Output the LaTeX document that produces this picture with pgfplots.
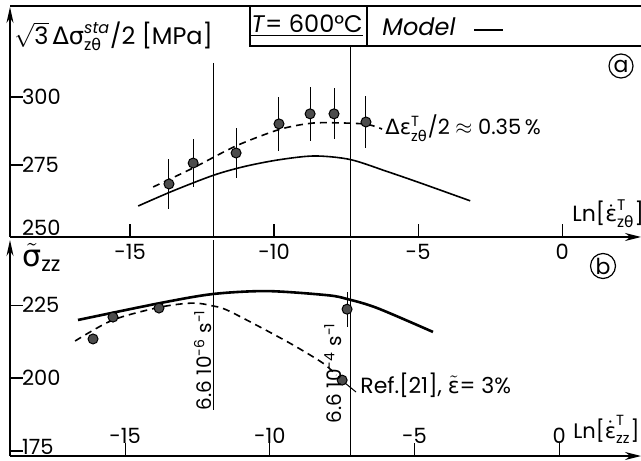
\documentclass[border=0pt]{standalone}
\usepackage{amsmath}
\usepackage{fontspec}
\setmainfont{Poppins}
\newfontfamily\grk{DejaVu Sans}
\usepackage{pgfplots}
\pgfplotsset{compat=1.18}
\usetikzlibrary{arrows.meta}

\pgfplotsset{
  panel/.style={
    scale only axis, width=315.5pt, anchor=south west,
    axis x line*=bottom, axis y line*=left,
    axis line style={line width=0.8pt},
    x axis line style={-{Stealth[length=8pt,width=4pt]}},
    y axis line style={-{Stealth[length=8pt,width=3.5pt]}},
    tick align=inside, major tick length=6.5pt,
    every tick/.style={black, line width=0.6pt},
    xtick={-15,-10,-5,0},
    /pgf/number format/assume math mode=true,
    ticklabel style={font=\fontsize{10.5}{12}\selectfont},
    yticklabel style={anchor=west, xshift=2.5pt},
    clip=false,
  },
  model/.style={black, line width=0.8pt, smooth, tension=0.5, no marks},
  fit/.style={black, line width=0.8pt, dash pattern=on 3.5pt off 2.5pt, smooth, tension=0.5, no marks},
  rate/.style={black, line width=0.5pt, no marks},
  pts/.style={only marks, mark=*, mark size=2.5pt,
    mark options={fill=black!70, draw=black, line width=0.5pt}},
}

\begin{document}
\begin{tikzpicture}[x=0.5pt, y=0.5pt]

% (a) shear stress amplitude
\begin{axis}[panel, at={(5pt,111.5pt)}, height=115pt,
  xmin=-19.17, xmax=2.74, ymin=248.5, ymax=333.1,
  ytick={275,300},
  extra y ticks={250},
  extra y tick style={major tick length=0pt, yticklabel style={yshift=2.5pt}},
]
\addplot[rate] coordinates {(-12.12,312.5) (-12.12,248.5)};
\addplot[rate] coordinates {(-7.36,319.1) (-7.36,248.5)};
\addplot[model] coordinates {
  (-14.72,259.9) (-13.5,265.5) (-12.08,271.3) (-11.0,274.5) (-9.83,276.9)
  (-8.6,278.3) (-7.36,277.0) (-6.08,272.6) (-4.93,268.4) (-3.19,261.8)
};
\addplot[fit] coordinates {
  (-14.2,266.9) (-12.81,273.9) (-11.32,282.0) (-9.83,288.0) (-8.75,290.3)
  (-7.92,290.5) (-6.81,290.0) (-6.25,288.2)
};
\addplot[pts, error bars/.cd, y dir=both, y explicit, error mark=none,
  error bar style={line width=0.5pt, black}] coordinates {
  (-13.65,268.0) +- (0,9.2)
  (-12.81,275.7) +- (0,8.8)
  (-11.32,279.4) +- (0,9.2)
  (-9.83,290.1) +- (0,10.0)
  (-8.75,293.8) +- (0,10.0)
  (-7.92,293.8) +- (0,9.4)
  (-6.81,290.8) +- (0,9.5)
};
\end{axis}

% (b) axial stress
\begin{axis}[panel, at={(5pt,2pt)}, height=108pt,
  xmin=-18.98, xmax=2.83, ymin=173.3, ymax=247.3,
  ytick={200,225},
  extra y ticks={175},
  extra y tick style={yticklabel style={yshift=2pt}},
  xticklabel style={anchor=south, yshift=2.5pt},
]
\addplot[rate] coordinates {(-11.96,247.3) (-11.96,189.0)};
\addplot[rate] coordinates {(-7.22,247.3) (-7.22,173.3)};
\addplot[model, line width=1.3pt] coordinates {
  (-16.63,219.9) (-13.79,225.7) (-11.96,228.8) (-10.09,229.8) (-8.02,228.4)
  (-7.33,227.1) (-6.29,224.0) (-4.36,215.8)
};
\addplot[fit] coordinates {
  (-16.73,212.7) (-15.42,219.9) (-13.79,224.3) (-12.65,225.7) (-11.96,224.7)
  (-11.48,223.3) (-10.34,217.5) (-9.19,211.3) (-8.16,205.1) (-7.7,201.0)
};
\addplot[pts] coordinates {
  (-16.11,213.4) (-15.42,220.9) (-13.83,224.0) (-7.50,199.3)
};
\addplot[pts, error bars/.cd, y dir=both, y explicit, error mark=none,
  error bar style={line width=0.5pt, black}] coordinates {
  (-7.33,223.6) +- (0,6.0)
};
\end{axis}

\begin{scope}[every node/.style={font=\fontsize{11}{13}\selectfont, inner sep=0pt}]
\draw[line width=0.7pt] (10,454) -- (641,454);
\draw[line width=0.7pt] (250,454) -- (250,414) -- (641,414);
\draw[line width=0.7pt] (367,454) -- (367,414);
\node[font=\fontsize{12}{14}\selectfont] at (307,434) {\underline{\textit{T}= 600°C}};
\node[anchor=west, font=\fontsize{12}{14}\selectfont] at (382,433) {\textit{Model}};
\draw[line width=0.8pt] (474,430) -- (503,430);
\node[draw, circle, line width=0.6pt, minimum size=12pt] at (621,394) {a};
\node[draw, circle, line width=0.6pt, minimum size=12.5pt] at (603,194) {b};
\node[anchor=base west, font=\fontsize{12}{14}\selectfont] at (14,415)
  {$\sqrt{\text{3}}\,\text{\grk Δσ}^{\textit{sta}}_{\text{z\grk θ}}$/2 [MPa]};
\node[anchor=base west, font=\fontsize{15}{17}\selectfont] at (22,193)
  {$\tilde{\text{\grk σ}}_{\text{zz}}$};
\node[anchor=west, font=\fontsize{10.5}{12}\selectfont] at (385,332)
  {{\grk Δε}$^{\text{T}}_{\text{z\grk θ}}$/2 $\approx$ 0.35\,\%};
\node[anchor=base west] at (572,238) {Ln[$\dot{\text{\grk ε}}^{\text{T}}_{\text{z\grk θ}}$]};
\node[anchor=base west, font=\fontsize{10.5}{12}\selectfont] at (573,22)
  {Ln[$\dot{\text{\grk ε}}^{\text{T}}_{\text{zz}}$]};
\node[anchor=west] at (360,75) {Ref.[21], $\tilde{\text{\grk ε}}$= 3\%};
\draw[line width=0.5pt] (345,77) -- (356,68);
\node[rotate=90, font=\fontsize{10}{12}\selectfont] at (203,100)
  {6.6 10$^{\text{-6}}$ s$^{\text{-1}}$};
\node[rotate=90, font=\fontsize{10}{12}\selectfont] at (333,87)
  {6.6 10$^{\text{-4}}$ s$^{\text{-1}}$};
\end{scope}

\pgfresetboundingbox
\path (0,0) rectangle (641,460);
\end{tikzpicture}
\end{document}
